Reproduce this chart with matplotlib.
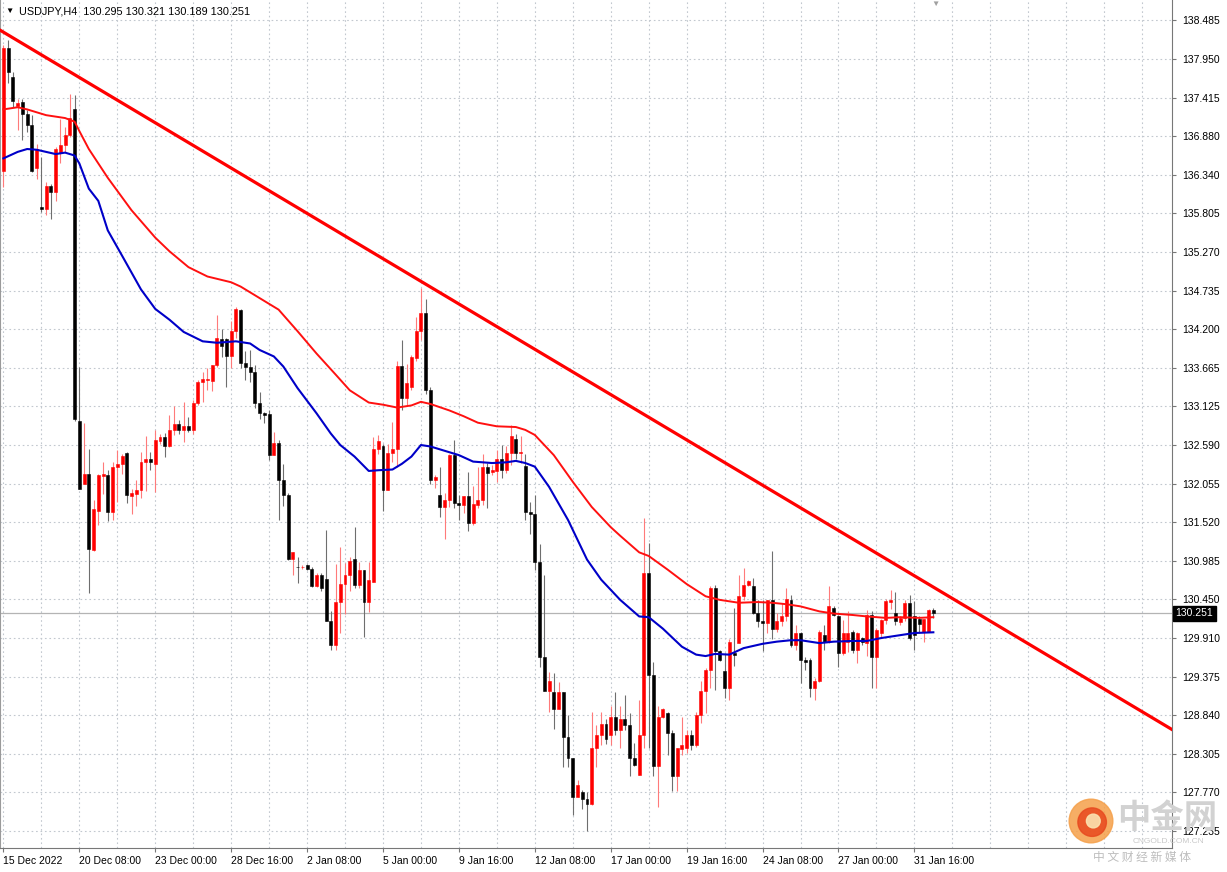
import matplotlib
matplotlib.use('Agg')
from matplotlib import pyplot as plt
from matplotlib.patches import Circle

plt.rcParams['font.family'] = ['Liberation Sans', 'DejaVu Sans']

# USDJPY H4 candles, 15 Dec 2022 16:00 onwards (index 0..196)
opens = [
    136.40, 138.10, 137.70, 137.30, 137.35, 137.18, 137.04, 136.43, 135.89, 135.87,
    136.18, 136.11, 136.65, 136.75, 136.89, 137.26, 132.93, 132.05, 132.19, 131.13,
    131.67, 132.16, 132.18, 131.66, 132.28, 132.33, 132.48, 131.88, 131.91, 131.97,
    132.36, 132.39, 132.32, 132.65, 132.70, 132.58, 132.80, 132.88, 132.80, 132.86,
    132.80, 133.18, 133.46, 133.49, 133.48, 133.70, 134.06, 134.06, 133.82, 134.17,
    134.46, 133.73, 133.67, 133.61, 133.17, 133.04, 133.02, 132.45, 132.62, 132.10,
    131.90, 131.01, 130.90, 130.89, 130.93, 130.87, 130.63, 130.78, 130.73, 130.15,
    129.81, 130.41, 130.66, 130.79, 131.01, 130.64, 130.85, 130.41, 130.69, 132.54,
    132.57, 131.97, 132.48, 132.53, 133.69, 133.24, 133.40, 133.80, 134.17, 134.42,
    133.35, 132.10, 131.90, 131.73, 131.83, 132.45, 131.78, 131.76, 131.88, 131.51,
    131.76, 131.83, 132.29, 132.21, 132.23, 132.39, 132.25, 132.48, 132.68, 132.48,
    132.30, 131.66, 131.63, 130.96, 129.65, 129.18, 129.16, 128.93, 129.16, 128.53,
    128.24, 127.71, 127.77, 127.68, 127.61, 128.38, 128.56, 128.72, 128.56, 128.81,
    128.64, 128.78, 128.70, 128.24, 128.01, 128.57, 130.82, 129.40, 128.13, 128.82,
    128.87, 128.59, 127.99, 128.37, 128.39, 128.57, 128.43, 128.84, 129.17, 129.47,
    130.61, 129.73, 129.45, 129.22, 129.70, 129.84, 130.50, 130.65, 130.63, 130.26,
    130.14, 130.12, 130.44, 130.03, 130.15, 130.22, 130.44, 129.81, 129.98, 129.61,
    129.61, 129.21, 129.32, 129.95, 129.86, 130.33, 130.22, 129.70, 129.86, 129.99,
    129.74, 129.91, 129.84, 130.23, 129.64, 129.98, 130.16, 130.41, 130.26, 130.13,
    130.19, 130.39, 130.21, 130.17, 129.99, 129.99, 130.295]
highs = [
    138.15, 138.22, 137.77, 137.40, 137.40, 137.24, 137.17, 136.77, 136.59, 136.24,
    136.22, 136.73, 137.12, 137.00, 137.47, 137.45, 133.68, 132.90, 132.53, 131.83,
    132.19, 132.36, 132.24, 132.35, 132.52, 132.46, 132.49, 131.98, 132.10, 132.49,
    132.72, 132.49, 132.80, 132.75, 132.76, 133.01, 133.13, 132.94, 133.19, 132.98,
    133.21, 133.49, 133.60, 133.66, 133.70, 134.40, 134.20, 134.07, 134.31, 134.51,
    134.48, 133.89, 133.91, 133.70, 133.33, 133.05, 133.08, 132.77, 132.66, 132.33,
    131.92, 131.11, 131.04, 130.92, 130.94, 130.90, 130.81, 130.81, 131.41, 130.29,
    130.94, 131.18, 130.95, 131.04, 131.45, 130.97, 130.86, 130.97, 132.70, 132.73,
    132.61, 132.60, 132.91, 133.75, 134.05, 133.72, 133.84, 134.37, 134.77, 134.62,
    133.40, 132.17, 132.29, 131.92, 132.47, 132.66, 131.89, 131.88, 132.22, 132.02,
    132.29, 132.47, 132.34, 132.31, 132.52, 132.59, 132.57, 132.87, 132.75, 132.71,
    132.47, 131.80, 131.89, 131.22, 130.78, 129.44, 129.42, 129.30, 129.16, 128.84,
    128.24, 127.94, 127.80, 127.77, 128.88, 128.70, 128.88, 128.79, 128.96, 129.16,
    128.96, 129.12, 128.87, 128.45, 129.05, 131.58, 131.23, 129.58, 128.96, 128.94,
    128.89, 128.64, 128.39, 128.82, 128.64, 128.64, 128.89, 129.31, 129.49, 130.63,
    130.64, 129.75, 129.70, 129.89, 130.33, 130.79, 130.88, 130.72, 130.75, 130.44,
    130.44, 130.44, 131.12, 130.26, 130.40, 130.60, 130.51, 130.09, 130.00, 129.65,
    129.63, 129.35, 130.02, 130.09, 130.63, 130.35, 130.23, 130.16, 130.28, 130.02,
    130.00, 129.93, 130.30, 130.28, 130.05, 130.18, 130.45, 130.58, 130.55, 130.21,
    130.44, 130.51, 130.42, 130.21, 130.18, 130.32, 130.321]
lows = [
    136.17, 137.61, 137.29, 136.96, 136.82, 136.94, 136.38, 136.28, 135.83, 135.78,
    135.73, 135.98, 136.50, 136.66, 136.87, 132.93, 131.98, 132.05, 130.54, 131.12,
    131.48, 131.91, 131.53, 131.55, 131.80, 132.19, 131.79, 131.63, 131.75, 131.86,
    131.95, 132.24, 131.94, 132.61, 132.43, 132.56, 132.73, 132.75, 132.63, 132.77,
    132.75, 133.14, 133.19, 133.35, 133.34, 133.68, 133.81, 133.40, 133.66, 134.07,
    133.66, 133.49, 133.47, 133.10, 132.95, 132.89, 132.38, 132.45, 131.55, 131.75,
    131.00, 130.78, 130.67, 130.87, 130.85, 130.62, 130.62, 130.57, 130.14, 129.74,
    129.74, 129.98, 130.25, 130.57, 130.60, 130.60, 129.92, 130.27, 130.69, 132.47,
    131.68, 131.97, 132.36, 132.29, 133.08, 133.15, 133.35, 133.75, 134.05, 133.30,
    132.05, 131.99, 131.59, 131.29, 131.73, 131.71, 131.55, 131.64, 131.39, 131.48,
    131.71, 131.76, 131.71, 132.17, 132.08, 132.13, 132.20, 132.31, 132.40, 132.34,
    131.55, 131.36, 130.85, 129.51, 129.18, 128.88, 128.65, 128.93, 128.12, 128.12,
    127.45, 127.70, 127.54, 127.23, 127.59, 128.12, 128.42, 128.44, 128.43, 128.56,
    128.38, 128.64, 127.99, 128.13, 128.01, 128.38, 128.38, 127.99, 127.57, 128.80,
    128.29, 127.78, 127.78, 128.29, 128.31, 128.36, 128.40, 128.73, 128.87, 129.21,
    129.19, 129.59, 129.08, 129.05, 129.52, 129.84, 130.44, 130.63, 130.24, 130.07,
    129.73, 129.98, 129.89, 129.99, 130.08, 130.15, 129.79, 129.74, 129.28, 129.46,
    129.09, 129.05, 129.30, 129.74, 129.84, 130.21, 129.51, 129.67, 129.72, 129.70,
    129.56, 129.81, 129.66, 129.21, 129.21, 129.93, 130.11, 130.32, 130.09, 130.09,
    130.14, 129.88, 129.74, 129.98, 129.86, 129.99, 130.189]
closes = [
    138.10, 137.77, 137.36, 137.34, 137.18, 137.03, 136.40, 136.70, 135.87, 136.19,
    136.11, 136.70, 136.75, 136.90, 137.13, 132.95, 131.98, 132.19, 131.14, 131.70,
    132.17, 132.19, 131.66, 132.28, 132.33, 132.44, 131.89, 131.93, 131.97, 132.36,
    132.39, 132.36, 132.66, 132.70, 132.58, 132.80, 132.88, 132.80, 132.86, 132.80,
    133.18, 133.46, 133.50, 133.51, 133.70, 134.07, 133.96, 133.82, 134.17, 134.48,
    133.73, 133.67, 133.61, 133.17, 133.04, 133.01, 132.45, 132.62, 132.10, 131.89,
    131.01, 131.11, 130.89, 130.90, 130.87, 130.63, 130.78, 130.60, 130.15, 129.81,
    130.41, 130.66, 130.79, 130.98, 130.64, 130.85, 130.41, 130.71, 132.54, 132.65,
    131.96, 132.48, 132.53, 133.69, 133.24, 133.45, 133.81, 134.17, 134.42, 133.35,
    132.10, 132.14, 131.73, 131.83, 132.45, 131.78, 131.76, 131.88, 131.51, 131.77,
    131.83, 132.29, 132.20, 132.24, 132.39, 132.25, 132.48, 132.71, 132.48, 132.50,
    131.66, 131.63, 130.97, 129.65, 129.18, 129.31, 128.93, 129.16, 128.53, 128.24,
    127.71, 127.87, 127.68, 127.61, 128.38, 128.56, 128.72, 128.51, 128.81, 128.64,
    128.78, 128.70, 128.24, 128.15, 128.57, 130.82, 129.40, 128.13, 128.82, 128.92,
    128.59, 127.99, 128.39, 128.43, 128.57, 128.43, 128.84, 129.17, 129.47, 130.61,
    129.73, 129.61, 129.22, 129.86, 129.68, 130.50, 130.65, 130.70, 130.26, 130.14,
    130.12, 130.44, 130.03, 130.15, 130.22, 130.45, 129.81, 129.98, 129.61, 129.58,
    129.21, 129.32, 129.99, 129.86, 130.35, 130.23, 129.70, 129.98, 129.98, 129.74,
    129.98, 129.85, 130.23, 129.64, 130.02, 130.16, 130.42, 130.44, 130.14, 130.19,
    130.39, 129.91, 129.95, 130.11, 130.17, 130.30, 130.251]

# moving averages (candle index, price)
red_ma_idx = [0, 3, 5, 7, 9, 11, 13, 15, 16, 18, 22, 27, 32, 35, 39, 43, 48, 50, 53, 58,
              62, 66, 70, 73, 77, 80, 83, 86, 88, 90, 94, 97, 100, 104, 108, 110, 112, 116,
              120, 124, 128, 130, 134, 136, 140, 144, 148, 151, 155, 159, 162, 165, 168,
              172, 175, 179, 182, 186, 189, 193, 196]
red_ma = [137.25, 137.28, 137.25, 137.21, 137.17, 137.15, 137.13, 137.08, 136.95, 136.70,
          136.30, 135.85, 135.47, 135.28, 135.06, 134.93, 134.85, 134.79, 134.67, 134.47,
          134.17, 133.86, 133.57, 133.35, 133.18, 133.15, 133.11, 133.14, 133.19, 133.16,
          133.07, 132.99, 132.90, 132.85, 132.84, 132.80, 132.73, 132.45, 132.08, 131.73,
          131.45, 131.33, 131.10, 131.05, 130.86, 130.66, 130.49, 130.44, 130.40, 130.41,
          130.40, 130.38, 130.35, 130.28, 130.25, 130.23, 130.21, 130.19, 130.20, 130.19,
          130.20]
blue_ma_idx = [0, 3, 5, 7, 9, 11, 13, 15, 16, 18, 20, 22, 25, 29, 32, 35, 38, 42, 45, 49,
               52, 54, 57, 59, 62, 66, 69, 71, 74, 77, 79, 82, 84, 86, 88, 90, 93, 96, 99,
               103, 106, 108, 110, 112, 115, 119, 123, 126, 128, 130, 134, 136, 139, 143,
               146, 148, 150, 153, 156, 160, 163, 166, 168, 172, 175, 179, 182, 185, 189,
               192, 196]
blue_ma = [136.57, 136.66, 136.70, 136.69, 136.66, 136.63, 136.65, 136.61, 136.50, 136.15,
           135.98, 135.57, 135.22, 134.75, 134.48, 134.33, 134.16, 134.03, 134.01, 134.03,
           134.00, 133.91, 133.82, 133.68, 133.38, 133.03, 132.75, 132.59, 132.43, 132.23,
           132.24, 132.25, 132.33, 132.43, 132.59, 132.57, 132.51, 132.45, 132.36, 132.34,
           132.35, 132.37, 132.34, 132.29, 132.01, 131.55, 131.00, 130.72, 130.58, 130.44,
           130.21, 130.20, 130.04, 129.79, 129.68, 129.66, 129.69, 129.68, 129.77, 129.83,
           129.86, 129.88, 129.88, 129.84, 129.86, 129.87, 129.87, 129.91, 129.95, 129.98,
           129.99]

# hand drawn trend line
trend_idx = [-0.7, 246.3]
trend_val = [138.35, 128.64]

bid = 130.251
price_ticks = [138.485, 137.950, 137.415, 136.880, 136.340, 135.805, 135.270, 134.735,
               134.200, 133.665, 133.125, 132.590, 132.055, 131.520, 130.985, 130.450,
               129.910, 129.375, 128.840, 128.305, 127.770, 127.235]
time_tick_idx = [0, 16, 32, 48, 64, 80, 96, 112, 128, 144, 160, 176, 192]
time_tick_labels = ['15 Dec 2022', '20 Dec 08:00', '23 Dec 00:00', '28 Dec 16:00',
                    '2 Jan 08:00', '5 Jan 00:00', '9 Jan 16:00', '12 Jan 08:00',
                    '17 Jan 00:00', '19 Jan 16:00', '24 Jan 08:00', '27 Jan 00:00',
                    '31 Jan 16:00']

fig = plt.figure(figsize=(12.27, 8.72), dpi=100)
ax = fig.add_axes([0.0, 24 / 872, 1172 / 1227, 848 / 872])

grid_col = '#c2c8cf'
for p in price_ticks:
    ax.axhline(p, color=grid_col, linestyle=(0, (1.5, 2.5)), linewidth=0.8, zorder=0)
for g in range(0, 248, 8):
    ax.axvline(g, color=grid_col, linestyle=(0, (1.5, 2.5)), linewidth=0.8, zorder=0)

ax.axhline(bid, color='#b4b4b4', linewidth=0.9, zorder=1)

# candles
for i in range(len(opens)):
    o, h, l, c = opens[i], highs[i], lows[i], closes[i]
    if c >= o:
        body, wick = '#ff0000', '#ff7a7a'
    else:
        body, wick = '#000000', '#6e6e6e'
    ax.vlines(i, l, h, color=wick, linewidth=0.8, zorder=2)
    ax.bar(i, max(abs(c - o), 0.004), bottom=min(o, c), width=0.62, color=body,
           edgecolor=body, linewidth=0.4, zorder=3)

ax.plot(red_ma_idx, red_ma, color='#ff1010', linewidth=1.4, zorder=4)
ax.plot(blue_ma_idx, blue_ma, color='#0000c8', linewidth=1.5, zorder=4)
ax.plot(trend_idx, trend_val, color='#ff0000', linewidth=2.3, zorder=5)

ax.set_xlim(-0.72, 246.3)
ax.set_ylim(126.995, 138.769)

ax.yaxis.tick_right()
ax.set_yticks(price_ticks)
ax.set_yticklabels(['%.3f' % p for p in price_ticks], fontsize=7.5)
ax.tick_params(axis='y', length=3, color='#777777', pad=4)
ax.set_xticks(time_tick_idx)
ax.set_xticklabels(time_tick_labels, fontsize=7.5)
for lab in ax.get_xticklabels():
    lab.set_horizontalalignment('left')
ax.tick_params(axis='x', length=3, color='#777777', pad=3)

ax.spines['top'].set_visible(False)
ax.spines['left'].set_color('#9a9a9a')
ax.spines['right'].set_color('#777777')
ax.spines['bottom'].set_color('#777777')

# current price label
ax.text(1.003, bid, '130.251', transform=ax.get_yaxis_transform(), fontsize=7.5,
        color='white', ha='left', va='center', zorder=10,
        bbox=dict(facecolor='black', edgecolor='black', pad=2))

# header
fig.text(5 / 1227, 1 - 11 / 872, '\u25bc', fontsize=6, color='black', va='center')
fig.text(19 / 1227, 1 - 11 / 872, 'USDJPY,H4  130.295 130.321 130.189 130.251',
         fontsize=7.8, color='black', va='center')
fig.text(935 / 1227, 1 - 4 / 872, '\u25bc', fontsize=6, color='#a0a0a0',
         ha='center', va='center')

# watermark
lax = fig.add_axes([1068 / 1227, 1 - 844 / 872, 46 / 1227, 46 / 872])
lax.set_aspect('equal')
lax.set_xlim(-1, 1)
lax.set_ylim(-1, 1)
lax.axis('off')
lax.add_patch(Circle((0, 0), 0.95, color='#f5a04a', alpha=0.85))
lax.add_patch(Circle((0.05, -0.05), 0.62, color='#e8491f', alpha=0.85))
lax.add_patch(Circle((0.1, 0.0), 0.3, color='#fbe3b0', alpha=0.9))
fig.text(1167 / 1227, 1 - 818 / 872, '中金网', fontsize=24, fontweight='bold',
         color='#d2d2d2', ha='center', va='center',
         family=['Noto Sans CJK SC', 'DejaVu Sans'])
fig.text(1168 / 1227, 1 - 841 / 872, 'CNGOLD.COM.CN', fontsize=6, color='#c8c8c8',
         ha='center', va='center')
fig.text(1142 / 1227, 1 - 857 / 872, '中 文 财 经 新 媒 体', fontsize=8.5,
         color='#bdbdbd', ha='center', va='center',
         family=['Noto Sans CJK SC', 'DejaVu Sans'])

fig.savefig('out.png', dpi=100)
